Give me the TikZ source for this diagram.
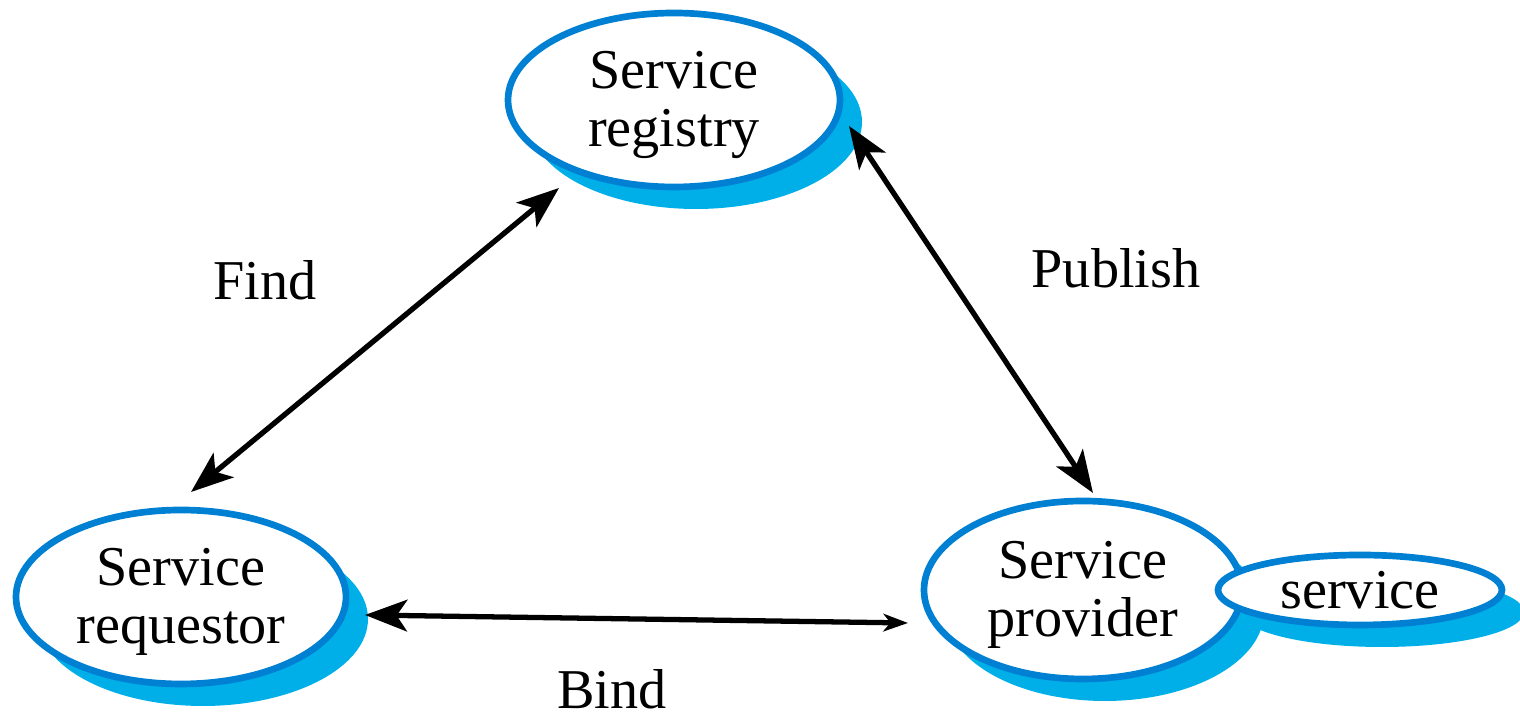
\documentclass[tikz,border=0pt]{standalone}
\usepackage{fontspec}
\setmainfont{Liberation Serif}
\usetikzlibrary{shapes.geometric,arrows.meta,shadows,calc}
\definecolor{edgeblue}{RGB}{0,128,210}
\definecolor{shadeblue}{RGB}{0,174,232}
\begin{document}
\begin{tikzpicture}[x=1cm,y=1cm,
  svc/.style={ellipse, draw=edgeblue, line width=1.9pt, fill=white, inner sep=0pt, inner xsep=-4pt,
    align=center, font=\fontsize{16}{16.5}\selectfont,
    general shadow={fill=shadeblue, shadow xshift=0.22cm, shadow yshift=-0.22cm}},
  two/.style={text depth=0.5pt},
  lbl/.style={font=\fontsize{16}{16.5}\selectfont, anchor=base, inner sep=0pt},
  link/.style={line width=1.5pt, {Stealth[length=12pt,width=9pt,inset=3pt]}-{Stealth[length=12pt,width=9pt,inset=3pt]}},
  bindlink/.style={line width=1.5pt, {Stealth[length=12pt,width=9pt,inset=3pt]}-{Stealth[length=7pt,width=5pt,inset=2pt]}}
]
\useasboundingbox (0,0) rectangle (15.2,-7.17);

\node[svc, two, minimum width=3.32cm, minimum height=1.74cm] (reg) at (6.74,-1.00) {Service\\registry};
\node[svc, two, minimum width=3.30cm, minimum height=1.74cm] (req) at (1.81,-5.97) {Service\\requestor};
\node[svc, two, minimum width=3.18cm, minimum height=1.78cm] (prov) at (10.83,-5.90) {Service\\provider};
\node[svc, minimum width=2.84cm, minimum height=0.70cm] (serv) at (13.60,-5.90) {service};

\node[lbl] (find) at (2.65,-3.00) {Find};
\node[lbl] (pub) at (11.16,-2.88) {Publish};
\node[lbl] (bind) at (6.12,-7.09) {Bind};

\draw[link] ($(req)+(0.10,1.05)$) -- ($(reg)+(-1.15,-0.88)$);
\draw[link] ($(reg)+(1.75,-0.26)$) -- ($(prov)+(0.10,0.97)$);
\draw[bindlink] ($(req)+(1.84,-0.18)$) -- ($(prov)+(-1.75,-0.33)$);
\end{tikzpicture}
\end{document}
